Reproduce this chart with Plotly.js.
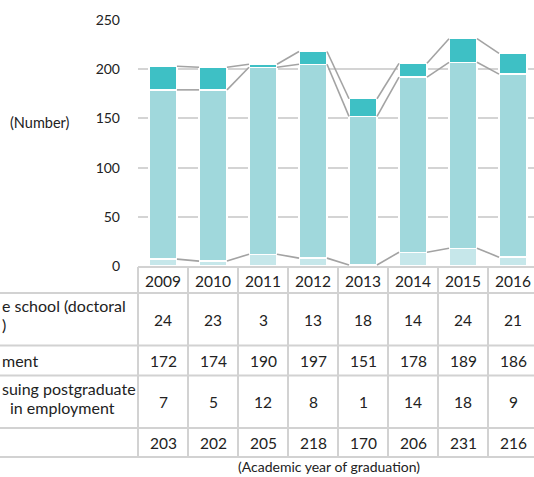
<!DOCTYPE html>
<html>
<head>
<meta charset="utf-8">
<script src="https://cdn.plot.ly/plotly-3.0.1.min.js"></script>
<style>html,body{margin:0;padding:0;background:#fff;overflow:hidden}#chart{width:534px;height:477px}</style>
</head>
<body>
<div id="chart"></div>
<script>
// ---- data ----
const years = ['2009','2010','2011','2012','2013','2014','2015','2016'];
const gradSchool = [24,23,3,13,18,14,24,21];
const employment = [172,174,190,197,151,178,189,186];
const pursuing = [7,5,12,8,1,14,18,9];
const totals = [203,202,205,218,170,206,231,216];
const yTicks = [0,50,100,150,200,250];
const rowLabels = [
  ['e school (doctoral', ')'],
  ['ment'],
  ['suing postgraduate', 'in employment'],
  ['']
];

// ---- layout helpers ----
const FONT = 'Lato, "Open Sans", sans-serif';
const TXT = '#222';
const W = 534, H = 477;
const L = 138, T = 20, PW = W - L, PH = 246;
const barW = 0.56;
const xMin = -0.5, xMax = xMin + PW / 50;
const px2x = p => (p - L) / PW;
const py2y = p => (T + PH - p) / PH;
const d2px = d => (d - xMin) / (xMax - xMin);

const idx = years.map((_, i) => i);
const cum1 = pursuing.slice();
const cum2 = pursuing.map((v, i) => v + employment[i]);
const cum3 = cum2.map((v, i) => v + gradSchool[i]);

const traces = [];
function bar(vals, color, name) {
  traces.push({type: 'bar', x: idx, y: vals, width: barW, name: name,
    marker: {color: color, line: {color: '#ffffff', width: 1.3}}, hoverinfo: 'y'});
}
bar(pursuing, '#c6e7ea', 'pursuing');
bar(employment, '#a0d8dc', 'employment');
bar(gradSchool, '#3ec0c5', 'grad school');

[cum1, cum2, cum3].forEach(level => {
  const xs = [], ys = [];
  for (let i = 0; i < level.length - 1; i++) {
    xs.push(i + barW / 2, i + 1 - barW / 2, null);
    ys.push(level[i], level[i + 1], null);
  }
  traces.push({type: 'scatter', mode: 'lines', x: xs, y: ys,
    line: {color: '#a3a3a3', width: 1.6}, hoverinfo: 'skip', cliponaxis: false});
});

// ---- table ----
const shapes = [];
const annotations = [];
const lineC = '#d2d2d2';
const rowEdges = [267, 293, 345.5, 375.5, 428, 457];
function hline(py, x0p, x1p) {
  shapes.push({type: 'line', xref: 'paper', yref: 'paper', x0: px2x(x0p), x1: px2x(x1p),
    y0: py2y(py), y1: py2y(py), line: {color: lineC, width: 2}});
}
hline(rowEdges[0], L, W + 10);
for (let r = 1; r < rowEdges.length; r++) hline(rowEdges[r], -5, W + 10);
for (let i = 0; i <= years.length; i++) {
  const xp = d2px(i - 0.5);
  shapes.push({type: 'line', xref: 'paper', yref: 'paper', x0: xp, x1: xp,
    y0: py2y(rowEdges[0]), y1: py2y(rowEdges[5]), line: {color: lineC, width: 2}});
}

const rows = [years, gradSchool, employment, pursuing, totals];
rows.forEach((row, r) => {
  const cy = (rowEdges[r] + rowEdges[r + 1]) / 2 + 0.5;
  row.forEach((v, i) => {
    annotations.push({xref: 'x', yref: 'paper', x: i, y: py2y(cy), text: String(v),
      showarrow: false, xanchor: 'center', yanchor: 'middle',
      font: {family: FONT, size: 15.5, color: TXT}});
  });
});

// row labels (cut off at the left edge)
const labelPos = [[305.5, 324.5], [360.5], [388.5, 407.5], [443]];
const labelX = [[0, 0], [0], [0, 8], [0]];
rowLabels.forEach((lines, r) => {
  lines.forEach((t, k) => {
    if (!t) return;
    annotations.push({xref: 'paper', yref: 'paper', x: px2x(labelX[r][k]), y: py2y(labelPos[r][k]),
      text: t, showarrow: false, xanchor: 'left', yanchor: 'middle',
      font: {family: FONT, size: 16, color: TXT}});
  });
});

annotations.push({xref: 'paper', yref: 'paper', x: px2x(8), y: py2y(122), text: '(Number)',
  showarrow: false, xanchor: 'left', yanchor: 'middle', font: {family: FONT, size: 14.5, color: TXT}});
annotations.push({xref: 'paper', yref: 'paper', x: px2x(329), y: py2y(467),
  text: '(Academic year of graduation)', showarrow: false, xanchor: 'center', yanchor: 'middle',
  font: {family: FONT, size: 14, color: TXT}});

const layout = {
  width: W, height: H,
  margin: {l: L, r: 0, t: T, b: H - T - PH, pad: 0},
  paper_bgcolor: '#ffffff', plot_bgcolor: '#ffffff',
  barmode: 'stack', showlegend: false,
  xaxis: {range: [xMin, xMax], showticklabels: false, showgrid: false, zeroline: false,
    showline: false, ticks: '', fixedrange: true},
  yaxis: {range: [0, 250], tickvals: yTicks, ticktext: yTicks.map(String),
    showgrid: true, gridcolor: '#d4d4d4', gridwidth: 2, zeroline: false, showline: false,
    ticks: '', ticklabelstandoff: 17, tickfont: {family: FONT, size: 14, color: TXT}, fixedrange: true},
  shapes: shapes,
  annotations: annotations
};

Plotly.newPlot('chart', traces, layout, {displayModeBar: false, staticPlot: true});
</script>
</body>
</html>
